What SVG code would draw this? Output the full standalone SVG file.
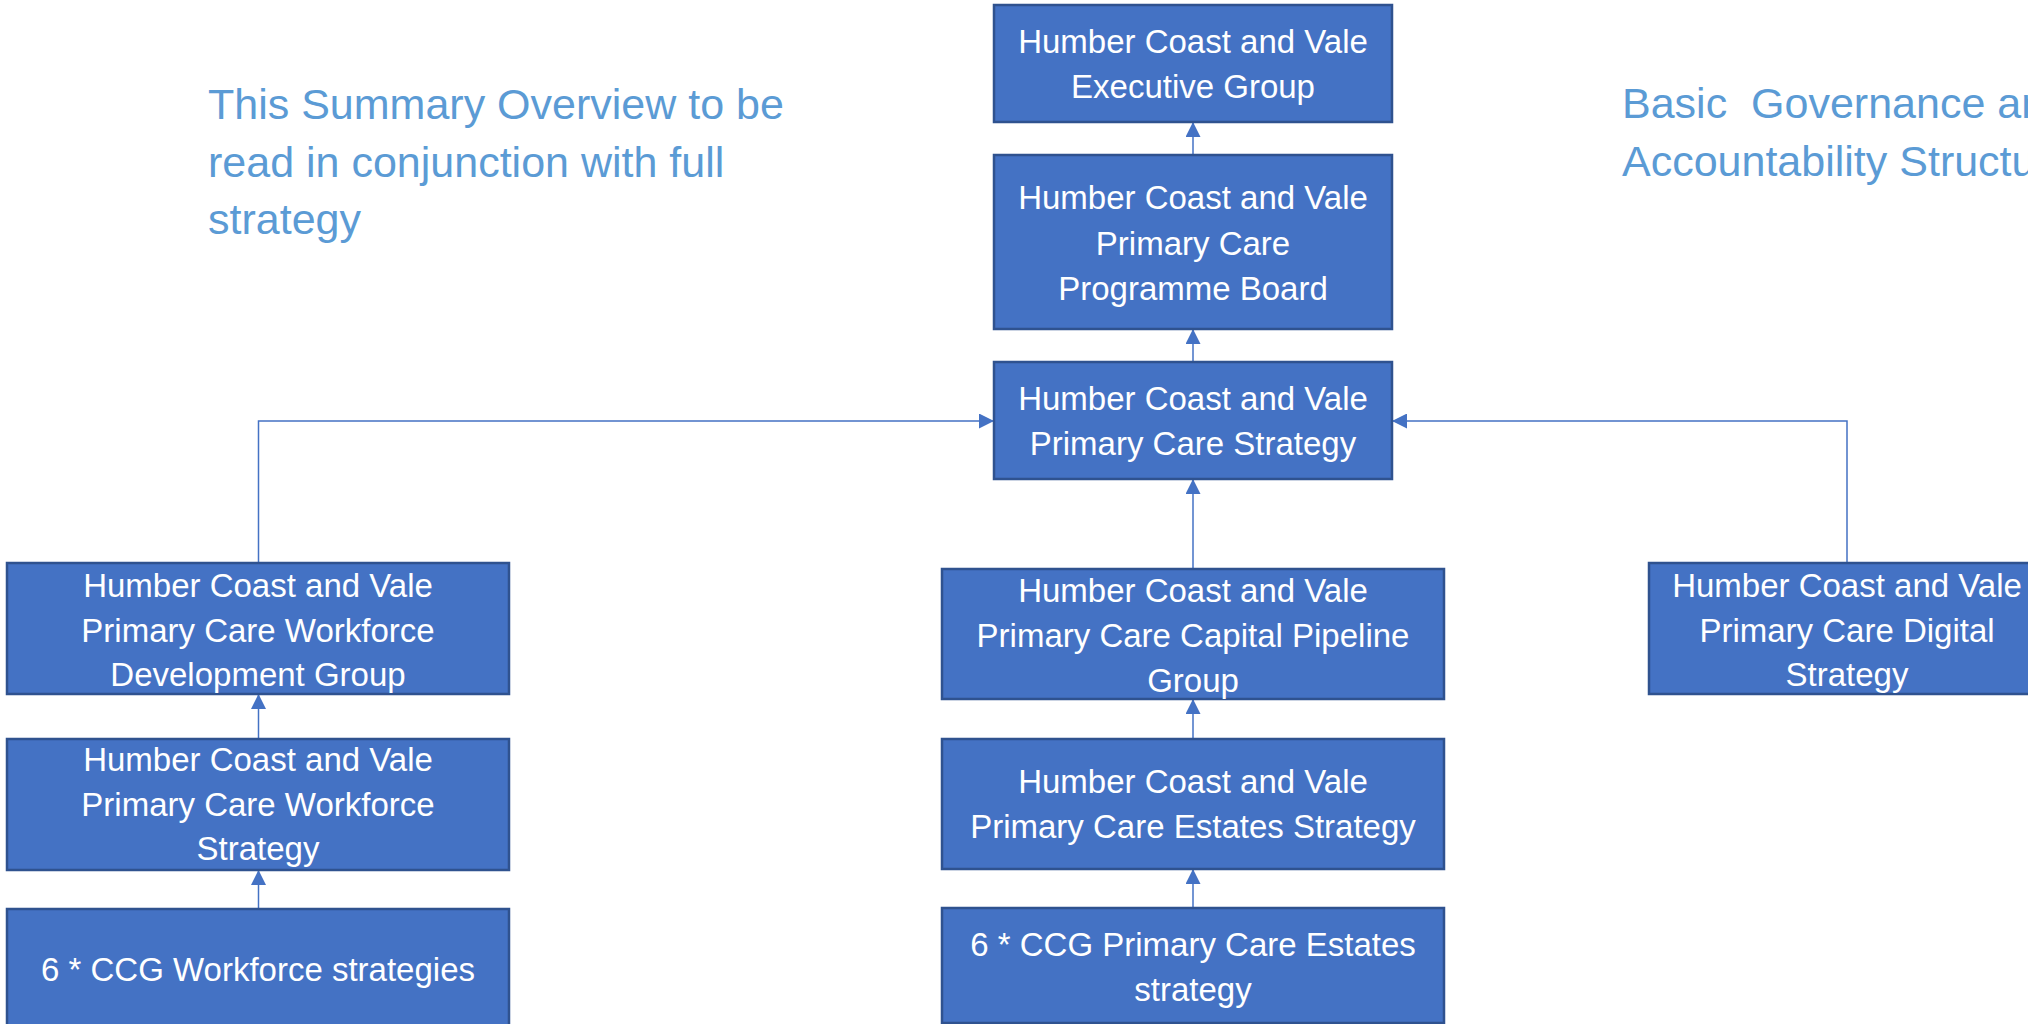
<svg xmlns="http://www.w3.org/2000/svg" width="2028" height="1024" viewBox="0 0 2028 1024">
<defs>
<style>
.box{fill:#4472C4;stroke:#2F528F;stroke-width:2.5}
.lbl{font-family:"Liberation Sans",Arial,sans-serif;font-size:33px;fill:#FFFFFF;text-anchor:middle}
.title{font-family:"Liberation Sans",Arial,sans-serif;font-size:43px;fill:#5B9BD5;white-space:pre}
.conn{fill:none;stroke:#4472C4;stroke-width:1.5;marker-end:url(#arr)}
</style>
<marker id="arr" viewBox="0 0 15 15" markerWidth="15" markerHeight="15" refX="15" refY="7.5" orient="auto" markerUnits="userSpaceOnUse">
<path d="M0,0 L15,7.5 L0,15 z" fill="#4472C4"/>
</marker>
</defs>
<rect width="2028" height="1024" fill="#FFFFFF"/>

<g id="title-left">
<text class="title" x="208" y="119">This Summary Overview to be</text>
<text class="title" x="208" y="177">read in conjunction with full</text>
<text class="title" x="208" y="234">strategy</text>
</g>
<g id="title-right">
<text class="title" x="1622" y="118" xml:space="preserve">Basic  Governance and</text>
<text class="title" x="1622" y="176">Accountability Structure</text>
</g>

<g id="connectors">
<path class="conn" d="M1193,155 V122"/>
<path class="conn" d="M1193,362 V329"/>
<path class="conn" d="M1193,569 V479"/>
<path class="conn" d="M258.5,563 V421 H994"/>
<path class="conn" d="M1847,563 V421 H1392"/>
<path class="conn" d="M258.5,739 V694"/>
<path class="conn" d="M258.5,909 V870"/>
<path class="conn" d="M1193,739 V699"/>
<path class="conn" d="M1193,908 V869"/>
</g>

<g id="exec-group">
<rect class="box" x="994" y="5" width="398" height="117"/>
<text class="lbl" x="1193" y="53">Humber Coast and Vale</text>
<text class="lbl" x="1193" y="98">Executive Group</text>
</g>
<g id="programme-board">
<rect class="box" x="994" y="155" width="398" height="174"/>
<text class="lbl" x="1193" y="209">Humber Coast and Vale</text>
<text class="lbl" x="1193" y="255">Primary Care</text>
<text class="lbl" x="1193" y="300">Programme Board</text>
</g>
<g id="pc-strategy">
<rect class="box" x="994" y="362" width="398" height="117"/>
<text class="lbl" x="1193" y="410">Humber Coast and Vale</text>
<text class="lbl" x="1193" y="455">Primary Care Strategy</text>
</g>

<g id="workforce-dev-group">
<rect class="box" x="7" y="563" width="502" height="131"/>
<text class="lbl" x="258" y="597">Humber Coast and Vale</text>
<text class="lbl" x="258" y="642">Primary Care Workforce</text>
<text class="lbl" x="258" y="686">Development Group</text>
</g>
<g id="workforce-strategy">
<rect class="box" x="7" y="739" width="502" height="131"/>
<text class="lbl" x="258" y="771">Humber Coast and Vale</text>
<text class="lbl" x="258" y="816">Primary Care Workforce</text>
<text class="lbl" x="258" y="860">Strategy</text>
</g>
<g id="ccg-workforce">
<rect class="box" x="7" y="909" width="502" height="125"/>
<text class="lbl" x="258" y="981">6 * CCG Workforce strategies</text>
</g>

<g id="capital-pipeline">
<rect class="box" x="942" y="569" width="502" height="130"/>
<text class="lbl" x="1193" y="602">Humber Coast and Vale</text>
<text class="lbl" x="1193" y="647">Primary Care Capital Pipeline</text>
<text class="lbl" x="1193" y="692">Group</text>
</g>
<g id="estates-strategy">
<rect class="box" x="942" y="739" width="502" height="130"/>
<text class="lbl" x="1193" y="793">Humber Coast and Vale</text>
<text class="lbl" x="1193" y="838">Primary Care Estates Strategy</text>
</g>
<g id="ccg-estates">
<rect class="box" x="942" y="908" width="502" height="115"/>
<text class="lbl" x="1193" y="956">6 * CCG Primary Care Estates</text>
<text class="lbl" x="1193" y="1001">strategy</text>
</g>

<g id="digital-strategy">
<rect class="box" x="1649" y="563" width="396" height="131"/>
<text class="lbl" x="1847" y="597">Humber Coast and Vale</text>
<text class="lbl" x="1847" y="642">Primary Care Digital</text>
<text class="lbl" x="1847" y="686">Strategy</text>
</g>
</svg>
